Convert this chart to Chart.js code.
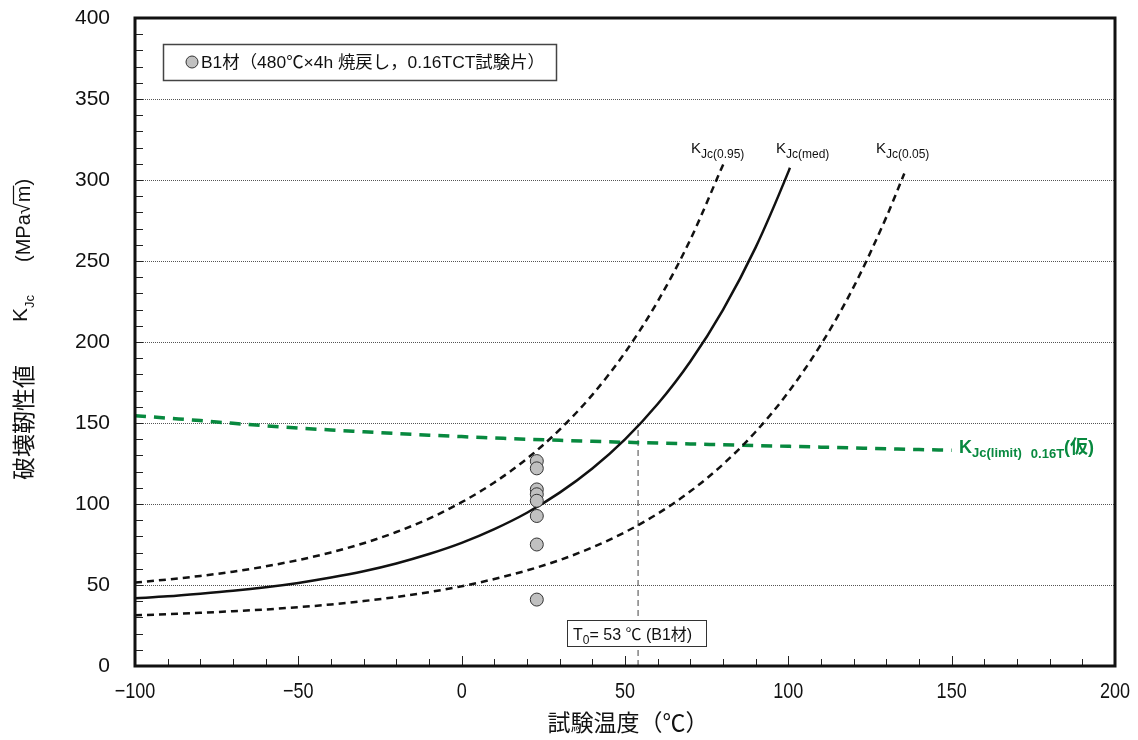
<!DOCTYPE html>
<html>
<head>
<meta charset="utf-8">
<script src="https://cdn.jsdelivr.net/npm/chart.js@4.4.1/dist/chart.umd.min.js"></script>
<style>
  html, body { margin: 0; padding: 0; background: #fff; }
</style>
</head>
<body>
<canvas id="chart_kjc_out" width="1138" height="740"></canvas>
<script>
// axis ticks
const xTicks = [-100, -50, 0, 50, 100, 150, 200];
const yTicks = [0, 50, 100, 150, 200, 250, 300, 350, 400];

// test data (B1, 0.16TCT)
const testTemps = [23, 23, 23, 23, 23, 23, 23, 23];
const kTest = [126.5, 122, 109, 106, 102, 92.6, 75, 41];

// master curve, median
const medTemps = [-100, -90, -80, -70, -60, -50, -40, -30, -20, -10, 0, 10, 20, 30, 40, 50, 60, 70, 80, 90, 100, 100.5];
const kMed = [41.8, 43.0, 44.6, 46.4, 48.6, 51.3, 54.6, 58.5, 63.3, 69.1, 76.0, 84.5, 94.6, 107.0, 121.9, 139.9, 161.7, 188.0, 219.9, 258.4, 305.0, 307.6];

// 95% bound
const p95Temps = [-100, -90, -80, -70, -60, -50, -40, -30, -20, -10, 0, 10, 20, 30, 40, 50, 60, 70, 80, 80.6];
const k95 = [51.5, 53.4, 55.6, 58.2, 61.5, 65.4, 70.1, 75.8, 82.7, 91.0, 101.1, 113.3, 128.0, 145.9, 167.4, 193.5, 225.0, 263.2, 309.3, 312.0];

// 5% bound
const p05Temps = [-100, -90, -80, -70, -60, -50, -40, -30, -20, -10, 0, 10, 20, 30, 40, 50, 60, 70, 80, 90, 100, 110, 120, 130, 135.5];
const k05 = [31.3, 32.0, 32.8, 33.8, 34.9, 36.3, 38.0, 40.1, 42.6, 45.6, 49.2, 53.7, 59.0, 65.4, 73.2, 82.6, 94.0, 107.8, 124.5, 144.6, 169.0, 198.5, 234.0, 277.1, 304.0];

// KJc(limit) 0.16T
const limTemps = [-100, -90, -80, -70, -60, -50, -40, -30, -20, -10, 0, 10, 20, 30, 40, 50, 60, 70, 80, 90, 100, 110, 120, 130, 140, 150];
const kLim = [154.5, 153.0, 151.5, 149.8, 148.3, 146.9, 145.7, 144.6, 143.5, 142.5, 141.6, 140.8, 140.0, 139.3, 138.7, 138.1, 137.6, 137.1, 136.6, 136.1, 135.6, 135.1, 134.6, 134.1, 133.6, 133.2];

// T0 marker
const t0Temps = [54, 54];
const t0K = [0, 149];

const JP = '"Noto Sans CJK JP"';
const LAT = '"Liberation Sans"';
const GREEN = '#08893f';

const _f_pairs = function (xs, ys) {
  return xs.map((x, i) => ({ x: x, y: ys[i] }));
};

const _f_rich = function (ctx, x, y, parts) {
  parts.forEach(p => {
    ctx.font = p.font;
    ctx.fillText(p.t, x, y + (p.dy || 0));
    x += ctx.measureText(p.t).width + (p.gap || 0);
  });
  return x;
};

const _f_fit = function (ctx, text, x, y, w) {
  let m = ctx.measureText(text).width;
  ctx.save();
  ctx.translate(x, y);
  ctx.scale(w / m, 1);
  ctx.fillText(text, 0, 0);
  ctx.restore();
};

// frame, dotted grid, inner ticks and all texts
const decorPlugin = {
  id: 'decor',
  beforeDatasetsDraw(chart) {
    const ctx = chart.ctx, ca = chart.chartArea;
    const sx = chart.scales.x, sy = chart.scales.y;
    ctx.save();
    ctx.strokeStyle = '#555';
    ctx.lineWidth = 1;
    ctx.setLineDash([1, 1]);
    yTicks.forEach(v => {
      if (v === 0 || v === 400) return;
      let y = Math.round(sy.getPixelForValue(v)) + 0.5;
      ctx.beginPath(); ctx.moveTo(ca.left, y); ctx.lineTo(ca.right, y); ctx.stroke();
    });
    ctx.setLineDash([]);
    ctx.strokeStyle = '#222';
    for (let v = 0; v <= 400; v += 10) {
      let y = Math.round(sy.getPixelForValue(v)) + 0.5;
      ctx.beginPath(); ctx.moveTo(ca.left, y); ctx.lineTo(ca.left + 8, y); ctx.stroke();
    }
    for (let v = -100; v <= 200; v += 10) {
      let x = Math.round(sx.getPixelForValue(v)) + 0.5;
      let len = (v % 50 === 0) ? 10 : 7;
      ctx.beginPath(); ctx.moveTo(x, ca.bottom); ctx.lineTo(x, ca.bottom - len); ctx.stroke();
    }
    ctx.restore();
  },
  afterDatasetsDraw(chart) {
    const ctx = chart.ctx, ca = chart.chartArea;
    const sx = chart.scales.x;
    ctx.save();

    // frame
    ctx.strokeStyle = '#111';
    ctx.lineWidth = 3;
    ctx.strokeRect(ca.left, ca.top, ca.right - ca.left, ca.bottom - ca.top);

    // legend box
    ctx.lineWidth = 1.5;
    ctx.strokeStyle = '#444';
    ctx.fillStyle = '#fff';
    ctx.fillRect(163.5, 44.5, 393, 36);
    ctx.strokeRect(163.5, 44.5, 393, 36);
    ctx.beginPath();
    ctx.arc(192, 62, 6, 0, Math.PI * 2);
    ctx.fillStyle = '#c0c0c0';
    ctx.fill();
    ctx.lineWidth = 1;
    ctx.strokeStyle = '#333';
    ctx.stroke();
    ctx.fillStyle = '#111';
    ctx.font = `17px ${LAT}, ${JP}`;
    ctx.textBaseline = 'alphabetic';
    _f_fit(ctx, 'B1材（480℃×4h 焼戻し，0.16TCT試験片）', 201, 68, 344);

    // T0 box
    ctx.fillStyle = '#fff';
    ctx.fillRect(567.5, 620.5, 139, 26);
    ctx.strokeStyle = '#333';
    ctx.lineWidth = 1;
    ctx.strokeRect(567.5, 620.5, 139, 26);
    ctx.fillStyle = '#111';
    _f_rich(ctx, 573, 640, [
      { t: 'T', font: `16px ${LAT}` },
      { t: '0', font: `12px ${LAT}`, dy: 4 },
      { t: '= 53 ℃ (B1材)', font: `16px ${LAT}, ${JP}` }
    ]);

    // curve labels
    [[691, '(0.95)'], [776, '(med)'], [876, '(0.05)']].forEach(l => {
      _f_rich(ctx, l[0], 153, [
        { t: 'K', font: `15px ${LAT}` },
        { t: 'Jc' + l[1], font: `12px ${LAT}`, dy: 5 }
      ]);
    });

    // limit label
    ctx.fillStyle = GREEN;
    _f_rich(ctx, 959, 453, [
      { t: 'K', font: `bold 18px ${LAT}` },
      { t: 'Jc(limit)', font: `bold 13px ${LAT}`, dy: 4, gap: 9 },
      { t: '0.16T', font: `bold 13px ${LAT}`, dy: 5 },
      { t: '(仮)', font: `bold 18px ${LAT}, ${JP}`, dy: 0 }
    ]);

    // x tick labels
    ctx.fillStyle = '#111';
    ctx.font = `22px ${LAT}`;
    ctx.textAlign = 'center';
    xTicks.forEach(v => {
      let x = sx.getPixelForValue(v);
      ctx.save();
      ctx.translate(x, 698);
      ctx.scale(0.82, 1);
      ctx.fillText(v < 0 ? '\u2212' + Math.abs(v) : String(v), 0, 0);
      ctx.restore();
    });

    // x title
    ctx.font = `23px ${JP}`;
    ctx.fillText('試験温度（℃）', 628, 731);

    // y title (rotated)
    ctx.textAlign = 'left';
    ctx.translate(0, 480);
    ctx.rotate(-Math.PI / 2);
    ctx.font = `23px ${JP}`;
    ctx.fillText('破壊靭性値', 0, 32);
    _f_rich(ctx, 158, 27, [
      { t: 'K', font: `21px ${LAT}` },
      { t: 'Jc', font: `13px ${LAT}`, dy: 7 }
    ]);
    let xm = _f_rich(ctx, 218, 30, [
      { t: '(MPa', font: `20px ${LAT}` },
      { t: '√', font: `20px ${LAT}, ${JP}` }
    ]);
    ctx.font = `20px ${LAT}`;
    let wm = ctx.measureText('m').width;
    ctx.fillText('m)', xm + 1, 30);
    ctx.lineWidth = 1.2;
    ctx.strokeStyle = '#111';
    ctx.beginPath();
    ctx.moveTo(xm - 1, 13.5);
    ctx.lineTo(xm + wm + 1, 13.5);
    ctx.stroke();

    ctx.restore();
  }
};

let ctx = document.getElementById('chart_kjc_out').getContext('2d');
let chartjs = new Chart(ctx, {
  type: 'line',
  data: {
    datasets: [
      {
        label: 'B1材',
        type: 'scatter',
        data: _f_pairs(testTemps, kTest),
        pointRadius: 6.5,
        pointBackgroundColor: '#c0c0c0',
        pointBorderColor: '#333',
        pointBorderWidth: 1,
        showLine: false
      },
      {
        label: 'KJc(med)',
        data: _f_pairs(medTemps, kMed),
        borderColor: '#111',
        borderWidth: 2.5,
        pointRadius: 0,
        cubicInterpolationMode: 'monotone'
      },
      {
        label: 'KJc(0.95)',
        data: _f_pairs(p95Temps, k95),
        borderColor: '#111',
        borderWidth: 2.5,
        borderDash: [7, 5],
        pointRadius: 0,
        cubicInterpolationMode: 'monotone'
      },
      {
        label: 'KJc(0.05)',
        data: _f_pairs(p05Temps, k05),
        borderColor: '#111',
        borderWidth: 2.5,
        borderDash: [7, 5],
        pointRadius: 0,
        cubicInterpolationMode: 'monotone'
      },
      {
        label: 'KJc(limit)',
        data: _f_pairs(limTemps, kLim),
        borderColor: GREEN,
        borderWidth: 3.5,
        borderDash: [11, 8],
        pointRadius: 0,
        cubicInterpolationMode: 'monotone'
      },
      {
        label: 'T0',
        data: _f_pairs(t0Temps, t0K),
        borderColor: '#444',
        borderWidth: 1,
        borderDash: [6, 4],
        pointRadius: 0
      }
    ]
  },
  options: {
    responsive: false,
    animation: false,
    layout: { padding: { left: 0, top: 18, right: 23, bottom: 0 } },
    scales: {
      x: {
        type: 'linear',
        min: -100,
        max: 200,
        grid: { display: false, drawTicks: false },
        border: { display: false },
        ticks: { display: false, stepSize: 50 },
        afterFit: function (scale) {
          scale.height = 74;
          scale.paddingLeft = 0;
          scale.paddingRight = 0;
        }
      },
      y: {
        min: 0,
        max: 400,
        grid: { display: false, drawTicks: false },
        border: { display: false },
        afterBuildTicks: function (scale) { scale.ticks = yTicks.map(v => ({ value: v })); },
        ticks: {
          padding: 25,
          color: '#111',
          font: { family: 'Liberation Sans', size: 21 }
        },
        afterFit: function (scale) {
          scale.width = 135;
          scale.paddingTop = 0;
          scale.paddingBottom = 0;
        }
      }
    },
    plugins: {
      legend: { display: false },
      tooltip: { enabled: false }
    }
  },
  plugins: [decorPlugin]
});
</script>
</body>
</html>
